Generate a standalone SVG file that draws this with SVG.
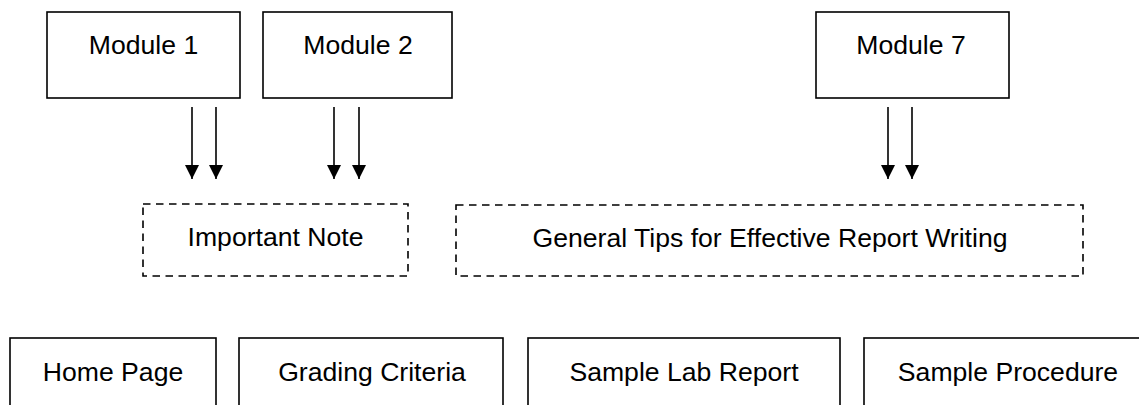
<svg xmlns="http://www.w3.org/2000/svg" width="1139" height="405" viewBox="0 0 1139 405">
<style>
.box{fill:#fff;stroke:#000;stroke-width:1.6}
.dash{fill:none;stroke:#000;stroke-width:1.6;stroke-dasharray:7.5 5.5}
.lbl{font-family:"Liberation Sans",Arial,sans-serif;font-size:26.6px;fill:#000;text-anchor:middle}
.arr{stroke:#000;stroke-width:1.6;fill:none;marker-end:url(#ah)}
</style>
<defs>
<marker id="ah" markerUnits="userSpaceOnUse" markerWidth="16" markerHeight="16" refX="14" refY="7" orient="auto">
<path d="M0,0 L14,7 L0,14 Z" fill="#000"/>
</marker>
</defs>
<rect width="1139" height="405" fill="#fff"/>
<g id="module1"><rect class="box" x="47" y="12" width="193" height="86"/><text class="lbl" x="143.5" y="53.5">Module 1</text></g>
<g id="module2"><rect class="box" x="263" y="12" width="189" height="86"/><text class="lbl" x="358" y="53.5">Module 2</text></g>
<g id="module7"><rect class="box" x="816" y="12" width="193" height="86"/><text class="lbl" x="911" y="53.5">Module 7</text></g>
<g id="important-note"><rect class="dash" x="143" y="204" width="265" height="72"/><text class="lbl" x="275.5" y="246">Important Note</text></g>
<g id="general-tips"><rect class="dash" x="456" y="205" width="627" height="71"/><text class="lbl" x="770" y="247">General Tips for Effective Report Writing</text></g>
<g id="home-page"><rect class="box" x="10" y="338" width="206" height="80"/><text class="lbl" x="113" y="381">Home Page</text></g>
<g id="grading-criteria"><rect class="box" x="239" y="338" width="264" height="80"/><text class="lbl" x="372" y="381">Grading Criteria</text></g>
<g id="sample-lab-report"><rect class="box" x="528" y="338" width="312" height="80"/><text class="lbl" x="684" y="381">Sample Lab Report</text></g>
<g id="sample-procedure"><rect class="box" x="864" y="338" width="288" height="80"/><text class="lbl" x="1008" y="381">Sample Procedure</text></g>
<g id="connectors">
<line class="arr" x1="192" y1="107" x2="192" y2="179"/>
<line class="arr" x1="216" y1="107" x2="216" y2="179"/>
<line class="arr" x1="334" y1="107" x2="334" y2="179"/>
<line class="arr" x1="359" y1="107" x2="359" y2="179"/>
<line class="arr" x1="888" y1="107" x2="888" y2="179"/>
<line class="arr" x1="912" y1="107" x2="912" y2="179"/>
</g>
</svg>
